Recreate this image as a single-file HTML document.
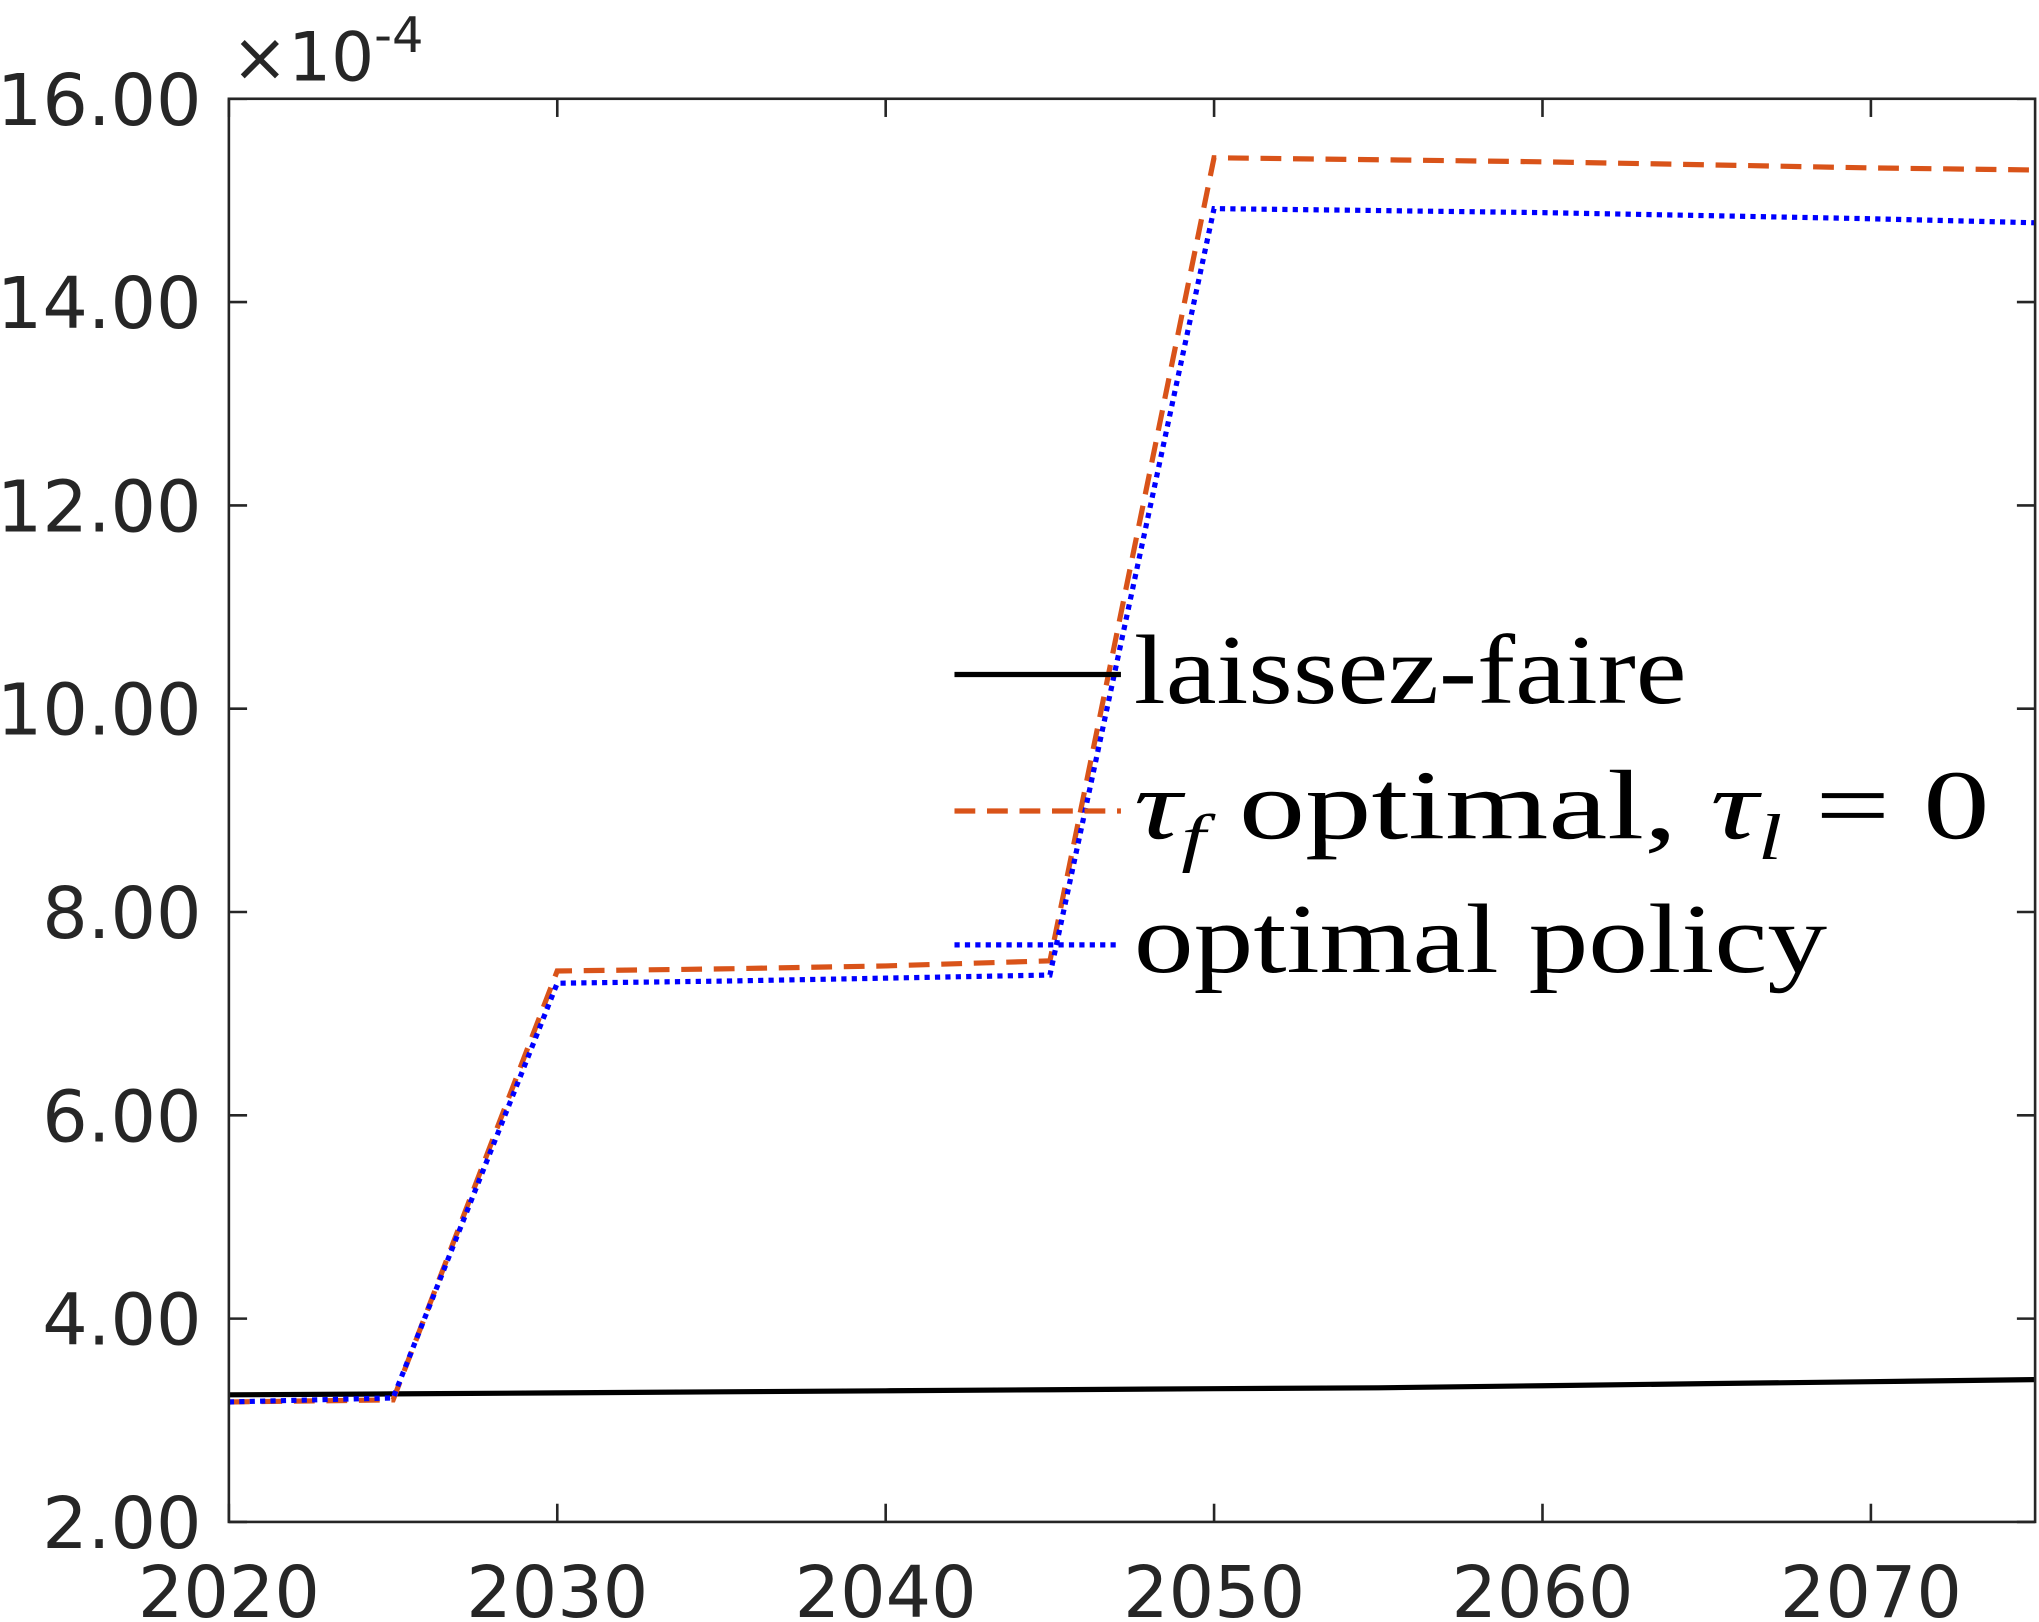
<!DOCTYPE html>
<html><head><meta charset="utf-8"><style>
html,body{margin:0;padding:0;background:#fff;}
svg{display:block;}
text{font-family:"DejaVu Sans","Liberation Sans",sans-serif;fill:#262626;}
.lg{font-family:"Liberation Serif","DejaVu Serif",serif;fill:#000;}
</style></head><body>
<svg id="chart" width="2039" height="1622" viewBox="0 0 1568 1248" preserveAspectRatio="none" xmlns="http://www.w3.org/2000/svg">
<rect width="1568" height="1248" fill="#fff"/>
<g id="ticks"></g>
<g id="series"></g>
<rect x="176" y="76" width="1389" height="1095" fill="none" stroke="#262626" stroke-width="2"/>
<text x="178" y="62" font-size="52">×10<tspan dy="-22" font-size="38">-4</tspan></text>
<g>
<line x1="734" y1="519" x2="862" y2="519" stroke="#000" stroke-width="4"/>
<text class="lg" x="872" y="541" font-size="76" textLength="425" lengthAdjust="spacingAndGlyphs">laissez-faire</text>
<line x1="734" y1="624" x2="862" y2="624" stroke="#D95319" stroke-width="4" stroke-dasharray="16,9"/>
<text class="lg" x="872" y="645" font-size="76" textLength="658" lengthAdjust="spacingAndGlyphs"><tspan font-style="italic">τ</tspan><tspan font-style="italic" font-size="50" dy="16">f</tspan><tspan dy="-16"> optimal, </tspan><tspan font-style="italic">τ</tspan><tspan font-style="italic" font-size="50" dy="16">l</tspan><tspan dy="-16"> = 0</tspan></text>
<line x1="734" y1="727" x2="862" y2="727" stroke="#0000FF" stroke-width="4" stroke-dasharray="4,4"/>
<text class="lg" x="872" y="748" font-size="76" textLength="533" lengthAdjust="spacingAndGlyphs">optimal policy</text>
</g>
</svg>
<script>
const years=[2020,2025,2030,2035,2040,2045,2050,2055,2060,2065,2070,2075];
const laissezFaire=[3.25,3.26,3.27,3.28,3.29,3.30,3.31,3.32,3.34,3.36,3.38,3.40];
const tauFOptimal=[3.18,3.20,7.42,7.44,7.47,7.52,15.42,15.40,15.38,15.35,15.32,15.30];
const optimalPolicy=[3.18,3.22,7.30,7.32,7.35,7.38,14.92,14.90,14.88,14.85,14.82,14.78];
const xTicks=[2020,2030,2040,2050,2060,2070];
const yTicks=[2,4,6,8,10,12,14,16];
const yTickLabels=["2.00","4.00","6.00","8.00","10.00","12.00","14.00","16.00"];
const NS="http://www.w3.org/2000/svg";
const X0=176,X1=1565,Y0=1171,Y1=76;
function xs(v){return X0+(v-2020)/(2075-2020)*(X1-X0);}
function ys(v){return Y0-(v-2)/(16-2)*(Y0-Y1);}
const tg=document.getElementById('ticks'),sg=document.getElementById('series');
function mk(tag,attrs,parent){const e=document.createElementNS(NS,tag);for(const k in attrs)e.setAttribute(k,attrs[k]);parent.appendChild(e);return e;}
xTicks.forEach(t=>{
  const x=xs(t);
  let l=mk('line',{x1:x,x2:x,y1:Y0,y2:Y0-14,stroke:'#262626','stroke-width':2},tg);
  
  
  l=mk('line',{x1:x,x2:x,y1:Y1,y2:Y1+14,stroke:'#262626','stroke-width':2},tg);
  
  
  const tx=mk('text',{x:x,y:1244,'text-anchor':'middle','font-size':55},tg);
  tx.textContent=t;
  
  
});
yTicks.forEach((t,i)=>{
  const y=ys(t);
  let l=mk('line',{x1:X0,x2:X0+14,y1:y,y2:y,stroke:'#262626','stroke-width':2},tg);
  
  
  l=mk('line',{x1:X1,x2:X1-14,y1:y,y2:y,stroke:'#262626','stroke-width':2},tg);
  
  
  const tx=mk('text',{x:155,y:y+20,'text-anchor':'end','font-size':55},tg);
  tx.textContent=yTickLabels[i];
  
  
});
function line(vals,color,dash,name){
  const d=vals.map((v,i)=>(i?'L':'M')+xs(years[i]).toFixed(1)+','+ys(v).toFixed(1)).join(' ');
  const p=mk('path',{d:d,fill:'none',stroke:color,'stroke-width':4},sg);
  if(dash)p.setAttribute('stroke-dasharray',dash);
  
  
}
line(laissezFaire,'#000',null,'series-laissez-faire');
line(tauFOptimal,'#D95319','16,9','series-tau-f-optimal');
line(optimalPolicy,'#0000FF','4,4','series-optimal-policy');
</script>
</body></html>
